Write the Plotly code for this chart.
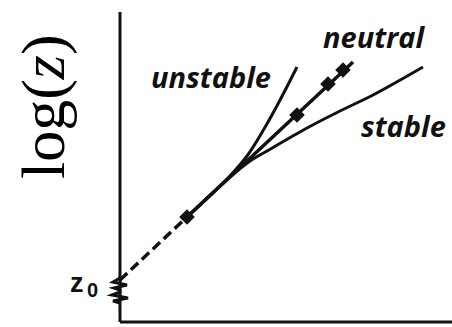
import plotly.graph_objects as go

# Schematic wind profiles: x = wind speed (arbitrary units), y = log(z) (arbitrary units)
z0_u = [0, 67]
z0_logz = [42, 105]

neutral_u = [67, 233]
neutral_logz = [105, 260]
neutral_marker_u = [67, 177, 208, 223]
neutral_marker_logz = [105, 207, 238, 252]

unstable_u = [67, 109, 127, 144, 159, 177]
unstable_logz = [105, 145, 166, 193, 220, 255]

stable_u = [67, 109, 130, 147, 187, 220, 253, 303]
stable_logz = [105, 144, 161, 171, 194, 211, 227, 255]

INK = "#111111"

fig = go.Figure()

fig.add_trace(go.Scatter(x=z0_u, y=z0_logz, mode="lines",
                         line=dict(color=INK, width=3.5, dash="10px,5px"), hoverinfo="skip"))
fig.add_trace(go.Scatter(x=unstable_u, y=unstable_logz, mode="lines",
                         line=dict(color=INK, width=3, shape="spline"), hoverinfo="skip"))
fig.add_trace(go.Scatter(x=stable_u, y=stable_logz, mode="lines",
                         line=dict(color=INK, width=3, shape="spline"), hoverinfo="skip"))
fig.add_trace(go.Scatter(x=neutral_u, y=neutral_logz, mode="lines",
                         line=dict(color=INK, width=3.5), hoverinfo="skip"))
fig.add_trace(go.Scatter(x=neutral_marker_u, y=neutral_marker_logz, mode="markers",
                         marker=dict(symbol="diamond", size=12, color=INK), hoverinfo="skip"))

# axes
fig.add_shape(type="line", x0=0, x1=0, y0=0, y1=310, line=dict(color=INK, width=3))
fig.add_shape(type="line", x0=0, x1=332, y0=0, y1=0, line=dict(color=INK, width=3))
# axis break at z0
fig.add_shape(type="path",
              path="M 0,46 L 0,44 L -7,40 L 7,37 L -6,34 L 0,32 L 0,30 L -8,27 L 8,24 L -7,21 L 0,19",
              line=dict(color=INK, width=3))

label_font = dict(family="Open Sans", size=29, color=INK, style="italic", weight=700)
fig.add_annotation(x=91, y=246, text="unstable", showarrow=False, font=label_font)
fig.add_annotation(x=254, y=286, text="neutral", showarrow=False, font=label_font)
fig.add_annotation(x=283, y=197, text="stable", showarrow=False, font=label_font)

fig.add_annotation(x=-43, y=39, text="z", showarrow=False,
                   font=dict(family="Liberation Sans", size=27, color=INK, weight="bold"))
fig.add_annotation(x=-28, y=32, text="0", showarrow=False,
                   font=dict(family="Liberation Sans", size=20, color=INK, weight="bold"))

fig.add_annotation(x=-77, y=215, text="log(<i>z</i>)", showarrow=False, textangle=-90,
                   font=dict(family="Liberation Serif", size=62, color="#000000"))

fig.update_layout(
    width=452, height=327,
    margin=dict(l=0, r=0, t=0, b=0),
    paper_bgcolor="white", plot_bgcolor="white",
    showlegend=False,
    xaxis=dict(range=[-120, 332], visible=False, fixedrange=True),
    yaxis=dict(range=[-5, 322], visible=False, fixedrange=True),
)

fig.write_html("out.html", config={"displayModeBar": False},
               post_script="document.body.style.margin='0';")
